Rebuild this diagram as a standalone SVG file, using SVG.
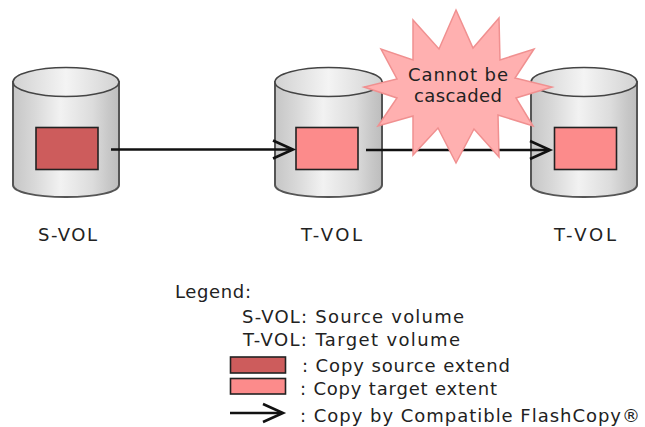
<svg xmlns="http://www.w3.org/2000/svg" width="645" height="427" viewBox="0 0 645 427">
<style>
text{font-family:"DejaVu Sans","Liberation Sans",sans-serif;font-size:18px;fill:#222}
.src{fill:#cd5c5c;stroke:#222;stroke-width:1.6}
.tgt{fill:#fc8b8b;stroke:#222;stroke-width:1.6}
.body{fill:url(#cyl);stroke:#555;stroke-width:2}
.top{fill:url(#cap);stroke:#444;stroke-width:1.5}
.ln{fill:none;stroke:#111;stroke-width:2.6}
</style>
<defs>
<linearGradient id="cyl"><stop offset="0" stop-color="#c6c6c6"/><stop offset=".2" stop-color="#d8d8d8"/><stop offset=".45" stop-color="#f2f2f2"/><stop offset=".75" stop-color="#dcdcdc"/><stop offset=".9" stop-color="#c8c8c8"/><stop offset="1" stop-color="#bdbdbd"/></linearGradient>
<linearGradient id="cap"><stop offset="0" stop-color="#d2d2d2"/><stop offset=".5" stop-color="#f4f4f4"/><stop offset="1" stop-color="#d2d2d2"/></linearGradient>
<path id="head" d="M-20,-9 L0,0 L-20,9" fill="none" stroke="#111" stroke-width="2.6"/>
</defs>
<g id="s-vol">
<path class="body" d="M13,82V185C13,192 35,197 66,197S119,192 119,185V82Z"/>
<ellipse class="top" cx="66" cy="82" rx="53" ry="14.500"/>
<rect class="src" x="36" y="127.500" width="62" height="42"/>
<text x="38" y="241" textLength="59">S-VOL</text>
</g>
<g id="t-vol-1">
<path class="body" d="M275,82V185C275,192 297,197 328.500,197S382,192 382,185V82Z"/>
<ellipse class="top" cx="328.500" cy="82" rx="53.500" ry="14.500"/>
<rect class="tgt" x="296" y="127.500" width="62" height="42"/>
<text x="301" y="241" textLength="61">T-VOL</text>
</g>
<g id="t-vol-2">
<path class="body" d="M531,82V185C531,192 553,197 584,197S637,192 637,185V82Z"/>
<ellipse class="top" cx="584" cy="82" rx="53" ry="14.500"/>
<rect class="tgt" x="554.500" y="127.500" width="62" height="42"/>
<text x="554" y="241" textLength="62">T-VOL</text>
</g>
<g id="connectors">
<path class="ln" d="M111,149.500H292"/><use href="#head" x="293" y="149.500"/>
<path class="ln" d="M366,150H549"/><use href="#head" x="550" y="150"/>
</g>
<g id="warning">
<polygon points="456,10 473,48 499,18 500,60 534,49 515,78 552,87 516,98 533,126 498,115 499,157 474,129 456,163 438,128 413,155 413,116 378,126 397,98 364,87 397,79 381,49 413,60 413,20 439,49" fill="#ffb0b0" stroke="#f09090" stroke-width="1.500"/>
<text x="408" y="81" textLength="100">Cannot be</text>
<text x="414" y="102" textLength="88">cascaded</text>
</g>
<g id="legend">
<text x="175" y="298" textLength="76">Legend:</text>
<text x="242" y="323" textLength="222">S-VOL: Source volume</text>
<text x="243" y="346" textLength="217">T-VOL: Target volume</text>
<rect class="src" x="230.500" y="357" width="55" height="16"/>
<text x="302" y="372" textLength="208">: Copy source extend</text>
<rect class="tgt" x="230.500" y="378.500" width="55" height="15.500"/>
<text x="300" y="395" textLength="197">: Copy target extent</text>
<path class="ln" d="M230,413H282"/><use href="#head" x="283" y="413"/>
<text x="300" y="422" textLength="340">: Copy by Compatible FlashCopy®</text>
</g>
</svg>
